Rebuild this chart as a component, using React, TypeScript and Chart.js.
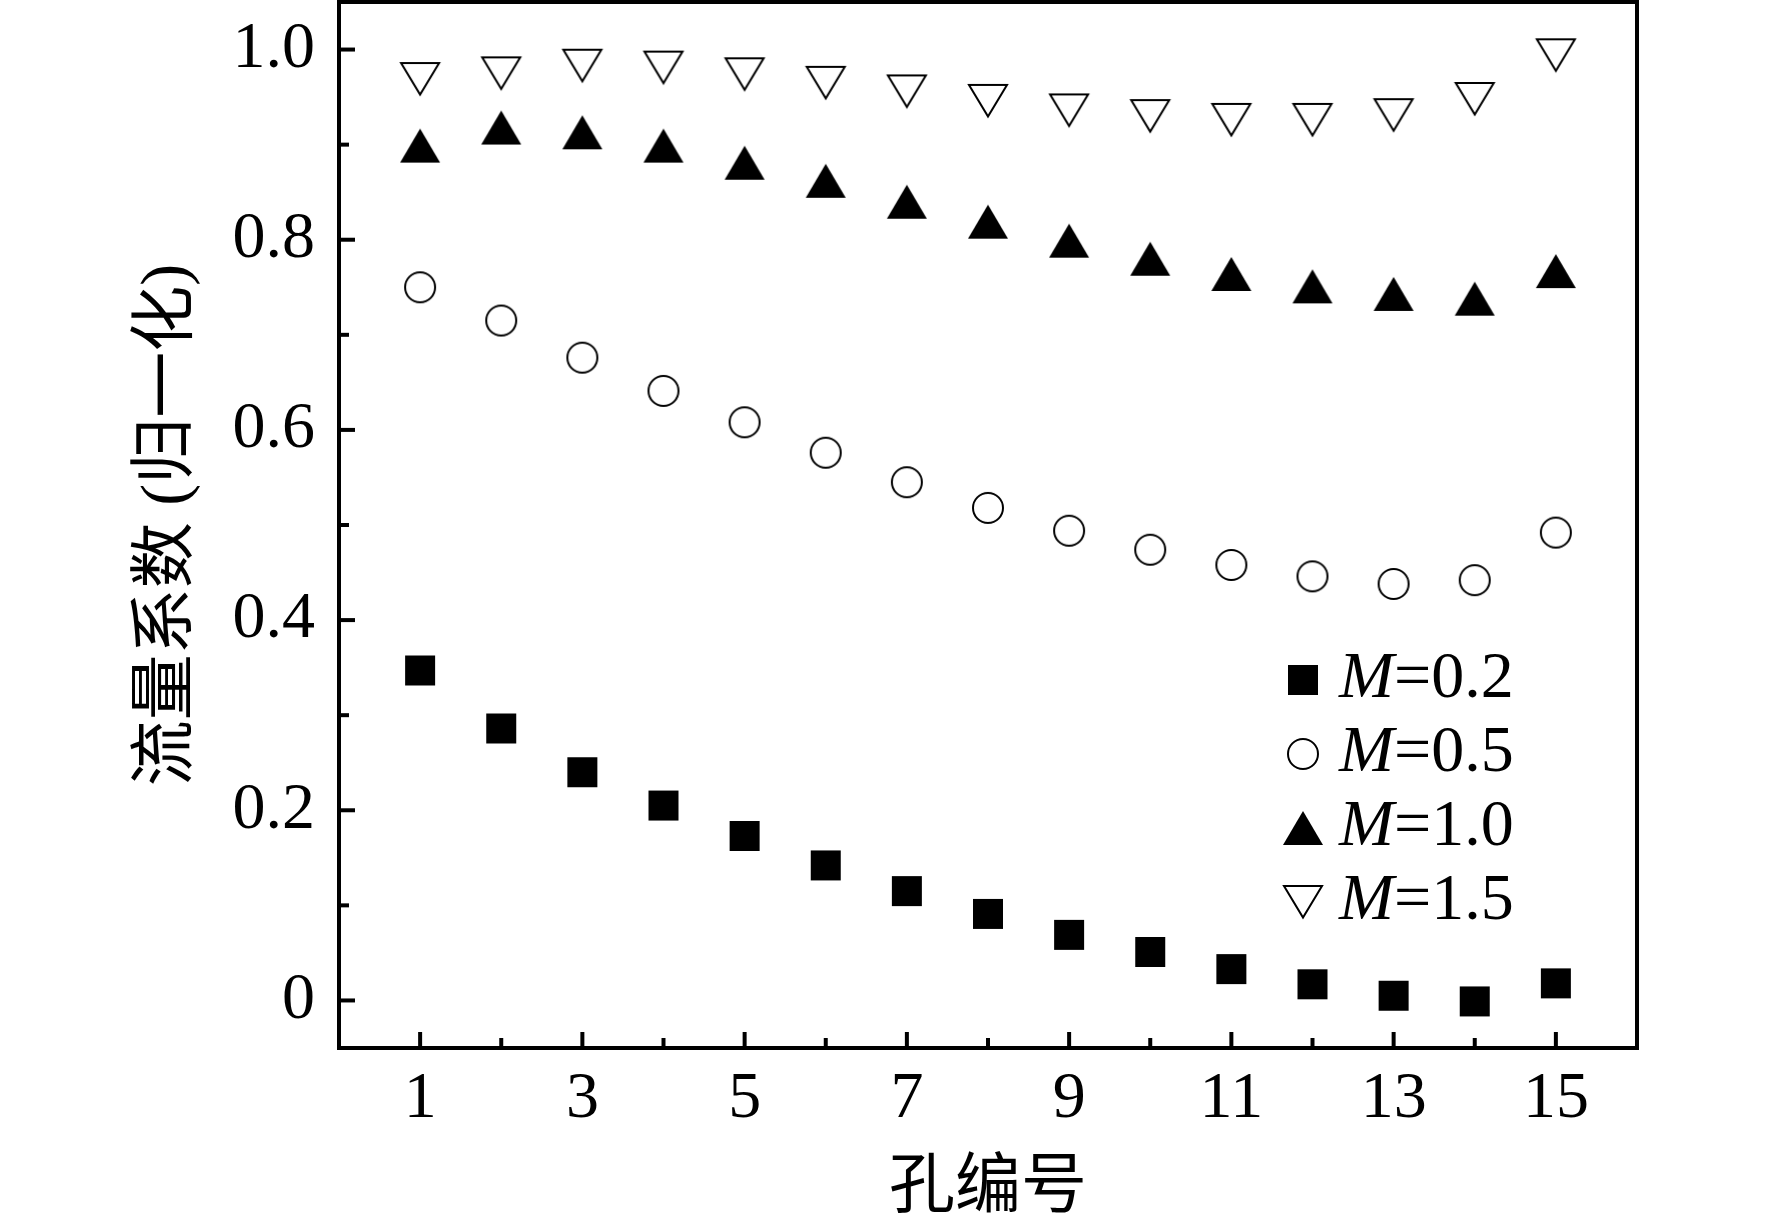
import React, { useEffect, useRef } from 'react';
import { Chart, registerables } from 'chart.js';

Chart.register(...registerables);

// ---------- data ----------
const HOLES = [1, 2, 3, 4, 5, 6, 7, 8, 9, 10, 11, 12, 13, 14, 15];
const M_02 = [0.347, 0.286, 0.240, 0.205, 0.173, 0.142, 0.115, 0.091, 0.069, 0.051, 0.033, 0.017, 0.005, -0.001, 0.018];
const M_05 = [0.750, 0.715, 0.676, 0.641, 0.608, 0.576, 0.545, 0.518, 0.494, 0.474, 0.458, 0.446, 0.438, 0.442, 0.492];
const M_10 = [0.899, 0.918, 0.913, 0.899, 0.881, 0.862, 0.840, 0.819, 0.799, 0.780, 0.764, 0.751, 0.743, 0.738, 0.767];
const M_15 = [0.969, 0.975, 0.983, 0.981, 0.974, 0.965, 0.956, 0.946, 0.936, 0.930, 0.926, 0.926, 0.931, 0.948, 0.994];
const SERIES_M = ['0.2', '0.5', '1.0', '1.5'];

const X_TICK_VALUES = [1, 2, 3, 4, 5, 6, 7, 8, 9, 10, 11, 12, 13, 14, 15];
const X_TICK_LABELS = ['1', '3', '5', '7', '9', '11', '13', '15'];
const Y_TICK_VALUES = [0, 0.1, 0.2, 0.3, 0.4, 0.5, 0.6, 0.7, 0.8, 0.9, 1.0];
const Y_TICK_LABELS = ['0', '0.2', '0.4', '0.6', '0.8', '1.0'];
const X_TITLE = '孔编号';
const Y_TITLE = '流量系数 (归一化)';

// ---------- styles ----------
const SERIF = "'Liberation Serif', 'Times New Roman', 'Noto Sans CJK SC', serif";
const FONT_SIZE = 66;
const W = 1772;
const H = 1229;

type Kind = 'square' | 'circle' | 'up' | 'down';

function makeMarker(kind: Kind): HTMLCanvasElement {
  const c = document.createElement('canvas');
  const S = 46;
  c.width = S;
  c.height = S;
  const g = c.getContext('2d')!;
  const m = S / 2;
  g.fillStyle = '#000';
  g.strokeStyle = '#000';
  g.lineWidth = 2;
  g.lineJoin = 'miter';
  if (kind === 'square') {
    g.fillRect(m - 15, m - 15, 30, 30);
  } else if (kind === 'circle') {
    g.beginPath();
    g.arc(m, m, 15, 0, Math.PI * 2);
    g.stroke();
  } else if (kind === 'up') {
    g.beginPath();
    g.moveTo(m, m - 17);
    g.lineTo(m + 20, m + 17);
    g.lineTo(m - 20, m + 17);
    g.closePath();
    g.fill();
  } else {
    g.beginPath();
    g.moveTo(m - 19, m - 16);
    g.lineTo(m + 19, m - 16);
    g.lineTo(m, m + 15.5);
    g.closePath();
    g.stroke();
  }
  return c;
}

export default function App() {
  const ref = useRef<HTMLCanvasElement>(null);

  useEffect(() => {
    const kinds: Kind[] = ['square', 'circle', 'up', 'down'];
    const markers = kinds.map(makeMarker);
    const seriesValues = [M_02, M_05, M_10, M_15];

    const datasets = seriesValues.map((vals, i) => ({
      label: 'M=' + SERIES_M[i],
      data: HOLES.map((h, j) => ({ x: h, y: vals[j] })),
      pointStyle: markers[i] as any,
      pointRadius: 16,
      showLine: false,
    }));

    const framePlugin = {
      id: 'frameTicks',
      afterDraw(chart: any) {
        const { ctx, chartArea: a } = chart;
        ctx.save();
        ctx.strokeStyle = '#000';
        ctx.lineWidth = 4;
        ctx.lineCap = 'butt';
        // inward ticks
        const xs = chart.scales.x;
        xs.ticks.forEach((t: any) => {
          const px = xs.getPixelForValue(t.value);
          const len = t.label !== '' ? 16 : 10;
          ctx.beginPath();
          ctx.moveTo(px, a.bottom);
          ctx.lineTo(px, a.bottom - len);
          ctx.stroke();
        });
        const ys = chart.scales.y;
        ys.ticks.forEach((t: any) => {
          const py = ys.getPixelForValue(t.value);
          const len = t.label !== '' ? 16 : 10;
          ctx.beginPath();
          ctx.moveTo(a.left, py);
          ctx.lineTo(a.left + len, py);
          ctx.stroke();
        });
        ctx.lineJoin = 'miter';
        ctx.strokeRect(a.left, a.top, a.right - a.left, a.bottom - a.top);

        // legend
        const mx = a.left + 964;
        const tx = a.left + 1000;
        const y0 = a.top + 678;
        const dy = 74;
        ctx.fillStyle = '#000';
        ctx.textBaseline = 'middle';
        ctx.textAlign = 'left';
        SERIES_M.forEach((m, i) => {
          const y = y0 + i * dy;
          const img = markers[i];
          ctx.drawImage(img, mx - img.width / 2, y - img.height / 2);
          ctx.font = `italic ${FONT_SIZE}px ${SERIF}`;
          ctx.fillText('M', tx, y);
          const wM = ctx.measureText('M').width;
          ctx.font = `${FONT_SIZE}px ${SERIF}`;
          ctx.fillText('=' + m, tx + wM, y);
        });
        ctx.restore();
      },
    };

    const font = { family: SERIF, size: FONT_SIZE };

    const chart = new Chart(ref.current!, {
      type: 'scatter',
      data: { datasets: datasets as any },
      options: {
        animation: false,
        responsive: false,
        layout: { autoPadding: false, padding: { left: 0, top: 2, right: 135, bottom: 0 } },
        plugins: { legend: { display: false }, tooltip: { enabled: false } },
        scales: {
          x: {
            type: 'linear',
            min: 0,
            max: 16,
            grid: { display: false, drawTicks: false },
            border: { display: false },
            afterBuildTicks: (s: any) => {
              s.ticks = X_TICK_VALUES.map((v) => ({ value: v }));
            },
            afterFit: (s: any) => {
              s.height = 181;
              s.paddingLeft = 0;
              s.paddingRight = 0;
            },
            ticks: {
              autoSkip: false,
              maxRotation: 0,
              padding: 12,
              color: '#000',
              font,
              callback: (v: any) => (X_TICK_LABELS.includes(String(v)) ? String(v) : ''),
            },
            title: {
              display: true,
              text: X_TITLE,
              color: '#000',
              font,
              padding: { top: 0, bottom: 0 },
            },
          },
          y: {
            type: 'linear',
            min: -0.05,
            max: 1.05,
            grid: { display: false, drawTicks: false },
            border: { display: false },
            afterBuildTicks: (s: any) => {
              s.ticks = Y_TICK_VALUES.map((v) => ({ value: v }));
            },
            afterFit: (s: any) => {
              s.width = 339;
              s.paddingTop = 0;
              s.paddingBottom = 0;
            },
            ticks: {
              autoSkip: false,
              padding: 24,
              color: '#000',
              font,
              callback: (v: any) => {
                const r = Math.round(Number(v) * 10) / 10;
                const s = r === 0 ? '0' : r.toFixed(1);
                return Y_TICK_LABELS.includes(s) ? s : '';
              },
            },
            title: {
              display: true,
              text: Y_TITLE,
              color: '#000',
              font,
              padding: { top: 129, bottom: 0 },
            },
          },
        },
      },
      plugins: [framePlugin],
    });

    return () => chart.destroy();
  }, []);

  return (
    <div style={{ position: 'absolute', left: 0, top: 0, width: W, height: H, background: '#fff' }}>
      <canvas ref={ref} width={W} height={H} style={{ display: 'block' }} />
    </div>
  );
}
